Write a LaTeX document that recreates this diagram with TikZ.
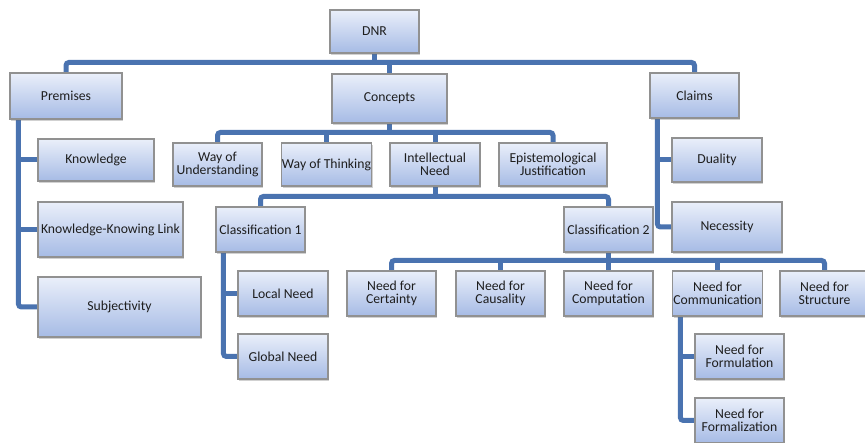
\documentclass[tikz,border=0pt]{standalone}
\usepackage{fontspec}
\setmainfont{Carlito}
\usetikzlibrary{shadows}
\definecolor{connblue}{RGB}{74,115,176}
\definecolor{boxtop}{RGB}{234,239,250}
\definecolor{boxbot}{RGB}{166,187,229}
\definecolor{boxedge}{RGB}{145,145,145}
\definecolor{txt}{RGB}{30,30,30}
\pgfdeclarelayer{bg}
\pgfsetlayers{bg,main}
\tikzset{
  box/.style={draw=boxedge, line width=1.1pt, top color=boxtop, bottom color=boxbot,
    align=center, inner sep=0.5pt, text=txt,
    font=\fontsize{13.7}{13}\selectfont,
    drop shadow={shadow xshift=1.2pt, shadow yshift=-1.8pt, opacity=0.3, fill=black!60}},
  conn/.style={draw=connblue, line width=5pt, rounded corners=3pt}
}
\newcommand{\bx}[6]{\node[box, minimum width=#4pt, minimum height=#5pt] (#1) at (#2,#3) {#6};}
\begin{document}
\begin{tikzpicture}[x=1pt,y=-1pt]
\useasboundingbox (0,0) rectangle (865,443);
\bx{dnr}{374.5}{31.5}{89}{43}{DNR}
\bx{premises}{66}{96}{112}{46}{Premises}
\bx{concepts}{389.5}{98.5}{115}{49}{Concepts}
\bx{claims}{694.5}{95.5}{89}{45}{Claims}
\bx{know}{96}{160}{116}{42}{Knowledge}
\bx{kkl}{110.5}{229.5}{145}{55}{Knowledge-Knowing Link}
\bx{subj}{119.5}{307}{163}{60}{Subjectivity}
\bx{wou}{217.5}{164.5}{89}{43}{Way of\\Understanding}
\bx{wot}{326.5}{164.5}{89}{43}{Way of Thinking}
\bx{in}{435}{164.5}{90}{43}{Intellectual\\Need}
\bx{ej}{553}{164.5}{108}{43}{Epistemological\\Justification}
\bx{dual}{717}{160}{90}{44}{Duality}
\bx{nec}{727}{227}{110}{50}{Necessity}
\bx{cone}{260.5}{229.5}{89}{45}{Classification 1}
\bx{ctwo}{608.5}{229.5}{89}{45}{Classification 2}
\bx{local}{283}{293.5}{90}{45}{Local Need}
\bx{global}{283}{356.5}{90}{45}{Global Need}
\bx{cert}{391.5}{293.5}{89}{45}{Need for\\Certainty}
\bx{caus}{500.5}{293.5}{89}{45}{Need for\\Causality}
\bx{comp}{608.5}{293.5}{89}{45}{Need for\\Computation}
\bx{comm}{717.5}{293.5}{89}{45}{Need for\\Communication}
\bx{struc}{824.5}{293.5}{89}{45}{Need for\\Structure}
\bx{formu}{739.5}{356.5}{89}{45}{Need for\\Formulation}
\bx{forma}{739.5}{420.5}{89}{45}{Need for\\Formalization}
\begin{pgfonlayer}{bg}
% top level
\draw[conn] (premises.north) -- ++(0,-10) -| (claims.north);
\coordinate (barA) at (0,63);
\draw[conn] (dnr.south) -- (dnr.south |- barA);
\draw[conn] (concepts.north) -- (concepts.north |- barA);
% concepts
\draw[conn] (wou.north) -- ++(0,-10) -| (ej.north);
\coordinate (barB) at (0,133);
\draw[conn] (concepts.south) -- (concepts.south |- barB);
\draw[conn] (wot.north) -- (wot.north |- barB);
\draw[conn] (in.north) -- (in.north |- barB);
% intellectual need
\draw[conn] (cone.north) -- ++(0,-10) -| (ctwo.north);
\coordinate (barC) at (0,197);
\draw[conn] (in.south) -- (in.south |- barC);
% classification 2
\draw[conn] (cert.north) -- ++(0,-10) -| (struc.north);
\coordinate (barD) at (0,261);
\draw[conn] (ctwo.south) -- (ctwo.south |- barD);
\draw[conn] (caus.north) -- (caus.north |- barD);
\draw[conn] (comp.north) -- (comp.north |- barD);
\draw[conn] (comm.north) -- (comm.north |- barD);
% premises side
\coordinate (pv) at ([xshift=9pt]premises.south west);
\draw[conn] (pv) |- (subj.west);
\draw[conn] (pv |- know.west) -- (know.west);
\draw[conn] (pv |- kkl.west) -- (kkl.west);
% claims side
\coordinate (cv) at ([xshift=8pt]claims.south west);
\draw[conn] (cv) |- (nec.west);
\draw[conn] (cv |- dual.west) -- (dual.west);
% classification 1 side
\coordinate (ov) at ([xshift=8pt]cone.south west);
\draw[conn] (ov) |- (global.west);
\draw[conn] (ov |- local.west) -- (local.west);
% communication side
\coordinate (mv) at ([xshift=8pt]comm.south west);
\draw[conn] (mv) |- (forma.west);
\draw[conn] (mv |- formu.west) -- (formu.west);
\end{pgfonlayer}
\end{tikzpicture}
\end{document}
